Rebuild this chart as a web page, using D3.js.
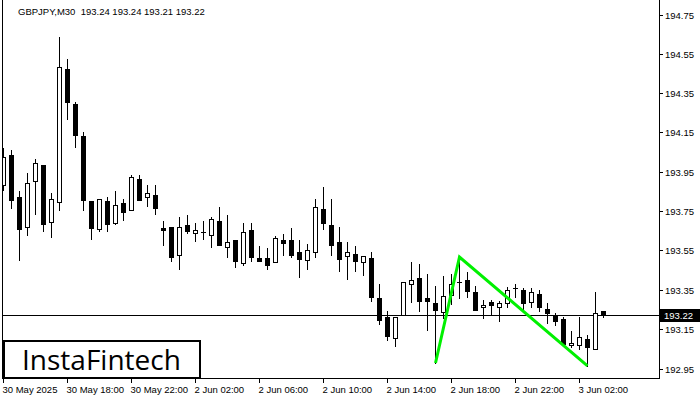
<!DOCTYPE html>
<html><head><meta charset="utf-8">
<script src="https://cdn.jsdelivr.net/npm/d3@7"></script>
<style>
html,body{margin:0;padding:0;background:#fff;}
svg{display:block;}
text{font-family:"Liberation Sans",Arial,sans-serif;}
</style></head>
<body>
<svg id="chart" width="700" height="400"></svg>
<script>
const title = "GBPJPY,M30  193.24 193.24 193.21 193.22";
const opens = [193.883,194.036,193.822,193.670,193.903,193.985,193.695,193.797,194.473,194.295,
194.132,193.802,193.659,193.802,193.690,193.792,193.756,193.914,193.822,193.832,
193.664,193.670,193.527,193.680,193.639,193.644,193.629,193.700,193.568,193.603,
193.486,193.654,193.512,193.512,193.492,193.603,193.603,193.542,193.502,193.542,
193.761,193.680,193.593,193.522,193.532,193.492,193.512,193.308,193.212,193.105,
193.222,193.380,193.410,193.308,193.283,193.237,193.324,193.390,193.400,193.339,
193.263,193.288,193.263,193.283,193.359,193.349,193.288,193.329,193.252,193.217,
193.202,193.069,193.069,193.100,193.049,193.24];
const highs = [194.071,194.061,193.853,193.944,194.015,193.985,193.842,194.636,194.524,194.305,
194.153,193.802,193.812,193.822,193.853,193.812,193.934,193.934,193.883,193.883,
193.700,193.670,193.720,193.731,193.690,193.700,193.720,193.771,193.731,193.603,
193.690,193.690,193.573,193.563,193.624,193.634,193.664,193.603,193.583,193.812,
193.873,193.812,193.670,193.593,193.573,193.522,193.542,193.380,193.242,193.212,
193.390,193.492,193.481,193.430,193.369,193.420,193.430,193.517,193.441,193.369,
193.298,193.298,193.293,193.364,193.380,193.359,193.359,193.349,193.283,193.232,
193.212,193.141,193.212,193.120,193.339,193.24];
const lows = [193.858,193.766,193.502,193.629,193.736,193.649,193.619,193.756,194.219,194.076,
193.756,193.608,193.649,193.649,193.685,193.705,193.756,193.807,193.776,193.736,
193.578,193.497,193.456,193.639,193.598,193.608,193.568,193.578,193.517,193.466,
193.476,193.497,193.497,193.456,193.492,193.527,193.517,193.415,193.456,193.517,
193.659,193.527,193.446,193.405,193.446,193.425,193.293,193.176,193.095,193.064,
193.222,193.288,193.242,193.146,192.978,193.207,193.278,193.308,193.314,193.247,
193.207,193.227,193.192,193.263,193.314,193.237,193.263,193.242,193.181,193.171,
193.064,193.059,193.049,192.963,193.049,193.21];
const closes = [194.025,193.807,193.659,193.893,193.995,193.687,193.812,194.483,194.305,194.137,
193.807,193.664,193.812,193.685,193.781,193.746,193.924,193.807,193.842,193.766,
193.652,193.517,193.670,193.649,193.654,193.644,193.710,193.578,193.593,193.497,
193.644,193.517,193.498,193.476,193.614,193.588,193.527,193.507,193.552,193.771,
193.690,193.578,193.507,193.542,193.497,193.522,193.314,193.197,193.115,193.212,
193.390,193.400,193.293,193.293,193.247,193.319,193.380,193.390,193.344,193.247,
193.273,193.273,193.283,193.349,193.359,193.281,193.339,193.263,193.232,193.192,
193.075,193.080,193.110,193.059,193.232,193.22];
const timeTickIdx = [0,8,16,24,32,40,48,56,64,72];
const timeTickLabels = ["30 May 2025","30 May 18:00","30 May 22:00","2 Jun 02:00","2 Jun 06:00","2 Jun 10:00","2 Jun 14:00","2 Jun 18:00","2 Jun 22:00","3 Jun 02:00"];
const priceTicks = [194.75,194.55,194.35,194.15,193.95,193.75,193.55,193.35,193.15,192.95];
const priceTickLabels = ["194.75","194.55","194.35","194.15","193.95","193.75","193.55","193.35","193.15","192.95"];
const currentPrice = 193.22;
const currentPriceLabel = "193.22";
// pattern: low of candle 54, high of candle 57, low of candle 73
const patternIdx = [54,57,73];
const patternSide = ["low","high","low"];
const logoText = "InstaFintech";

const svg = d3.select("#chart");
const L = 2, R = 659, T = 0, B = 378;
const x = d3.scaleLinear().domain([0,75]).range([3.5,603.5]);
const y = d3.scaleLinear().domain([192.95,194.75]).range([368.5,14.5]);

svg.append("defs").append("clipPath").attr("id","plot")
  .append("rect").attr("x",L+1).attr("y",T).attr("width",R-L-1).attr("height",B-T);

// title
svg.append("text").attr("x",18).attr("y",15).attr("font-size",9.5).attr("fill","#000")
  .style("white-space","pre").attr("xml:space","preserve").text(title);

const plot = svg.append("g").attr("clip-path","url(#plot)");

// current price line
const yp = Math.round(y(currentPrice)) + 0.5;
plot.append("line").attr("x1",L).attr("x2",R).attr("y1",yp).attr("y2",yp)
  .attr("stroke","#000").attr("stroke-width",1);

// candles
const data = opens.map((o,i)=>({i,o,h:highs[i],l:lows[i],c:closes[i]}));
const g = plot.append("g");
data.forEach(d=>{
  const cx = Math.floor(x(d.i));
  const yh = Math.round(y(d.h)), yl = Math.round(y(d.l));
  const yo = Math.round(y(d.o)), yc = Math.round(y(d.c));
  g.append("line").attr("x1",cx+0.5).attr("x2",cx+0.5).attr("y1",yh).attr("y2",yl+1)
    .attr("stroke","#000").attr("stroke-width",1);
  const top = Math.min(yo,yc), bot = Math.max(yo,yc);
  if (bot - top < 1) {
    g.append("line").attr("x1",cx-2).attr("x2",cx+3).attr("y1",top+0.5).attr("y2",top+0.5)
      .attr("stroke","#000").attr("stroke-width",1);
  } else {
    const bull = d.c > d.o;
    g.append("rect").attr("x",cx-1.5).attr("y",top+0.5).attr("width",4).attr("height",bot-top)
      .attr("fill",bull?"#fff":"#000").attr("stroke","#000").attr("stroke-width",1);
  }
});

// pattern line
const pts = patternIdx.map((idx,k)=>[x(idx), y(patternSide[k]==="low"?lows[idx]:highs[idx])]);
plot.append("path").attr("d",d3.line()(pts)).attr("fill","none")
  .attr("stroke","#00f000").attr("stroke-width",3).attr("stroke-linejoin","miter");

// frame
svg.append("line").attr("x1",L+0.5).attr("x2",L+0.5).attr("y1",T).attr("y2",B+0.5).attr("stroke","#000");
svg.append("line").attr("x1",R+0.5).attr("x2",R+0.5).attr("y1",T).attr("y2",B+0.5).attr("stroke","#000");
svg.append("line").attr("x1",L).attr("x2",R+1).attr("y1",B+0.5).attr("y2",B+0.5).attr("stroke","#000");

// price axis
const pa = svg.append("g");
priceTicks.forEach((p,k)=>{
  const yy = Math.round(y(p))+0.5;
  pa.append("line").attr("x1",R+1).attr("x2",R+4).attr("y1",yy).attr("y2",yy).attr("stroke","#000");
  pa.append("text").attr("x",665).attr("y",yy+3.5).attr("font-size",9.5).attr("fill","#000").text(priceTickLabels[k]);
});
// current price label
pa.append("rect").attr("x",660).attr("y",yp-6.5).attr("width",40).attr("height",13).attr("fill","#000");
pa.append("text").attr("x",664).attr("y",yp+3.5).attr("font-size",9.5).attr("fill","#fff").text(currentPriceLabel);

// time axis
const ta = svg.append("g");
timeTickIdx.forEach((idx,k)=>{
  const xx = Math.floor(x(idx))+0.5;
  ta.append("line").attr("x1",xx).attr("x2",xx).attr("y1",B+1).attr("y2",B+5).attr("stroke","#000");
  ta.append("text").attr("x",xx-1).attr("y",393).attr("font-size",9.5).attr("fill","#000").text(timeTickLabels[k]);
});

// logo
svg.append("rect").attr("x",4).attr("y",341).attr("width",196).attr("height",37)
  .attr("fill","#fff").attr("stroke","#000").attr("stroke-width",2);
svg.append("text").attr("x",22).attr("y",370).attr("font-size",28).attr("fill","#000")
  .style("font-family","'Open Sans','Liberation Sans',sans-serif").text(logoText);
</script>
</body></html>
